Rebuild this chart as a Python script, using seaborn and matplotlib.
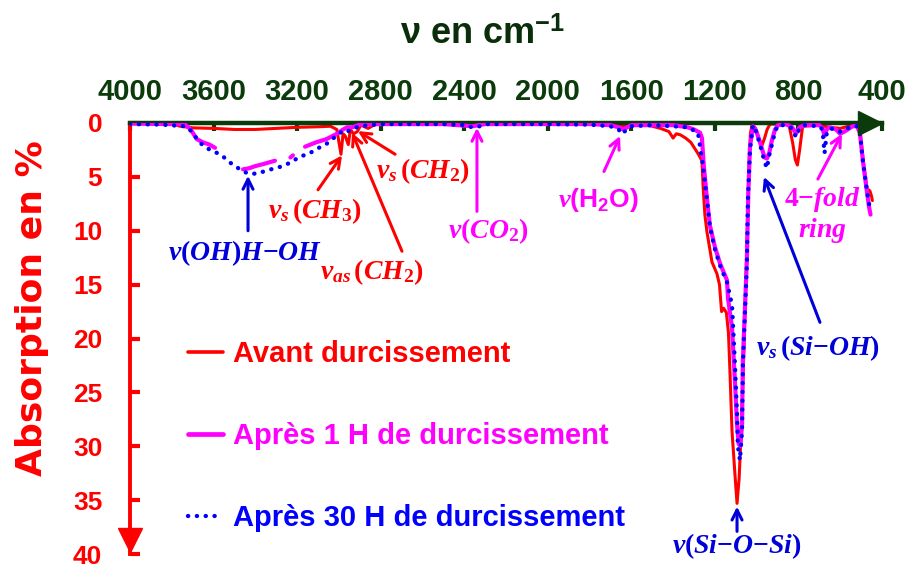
import numpy as np
import pandas as pd
import matplotlib
matplotlib.use("Agg")
import matplotlib.pyplot as plt
from matplotlib.lines import Line2D
import seaborn as sns

# FTIR spectra: wavenumber (cm-1) and absorption (%) for each curing stage
wn_avant = [4000, 3800, 3760, 3700, 3600, 3500, 3400, 3300, 3200, 3100, 3040, 3010,
            2990, 2980, 2970, 2955, 2945, 2930, 2912, 2895, 2860, 2820, 2600, 2400,
            2350, 2300, 2000, 1800, 1700, 1640, 1600, 1560, 1520, 1460, 1420, 1400,
            1385, 1365, 1340, 1315, 1282, 1262, 1256, 1248, 1238, 1214, 1190, 1178,
            1168, 1158, 1145, 1135, 1128, 1118, 1104, 1094, 1084, 1075, 1061, 1047,
            1037, 1030, 1022, 1005, 990, 975, 962, 950, 936, 880, 845, 828, 815,
            805, 795, 780, 700, 650, 600, 560, 520, 505, 490, 472, 458, 450, 446]
abs_avant = [0.0, 0.05, 0.3, 0.45, 0.5, 0.6, 0.6, 0.5, 0.4, 0.35, 0.3, 0.6,
             2.9, 1.0, 1.2, 2.0, 0.6, 1.0, 0.8, 0.2, 0.5, 0.05, 0.05, 0.1,
             0.2, 0.05, 0.05, 0.05, 0.1, 0.3, 0.1, 0.1, 0.2, 0.5, 0.8, 1.4,
             1.0, 1.1, 1.4, 1.8, 2.8, 3.5, 6.0, 8.5, 10.1, 12.9, 14.0, 15.0,
             17.5, 17.2, 17.6, 19.5, 23.0, 28.6, 32.6, 35.3, 33.0, 29.0, 21.0, 11.7,
             4.3, 1.0, 0.1, 0.5, 1.4, 2.1, 1.4, 0.6, 0.1, 0.1, 0.2, 1.8, 3.4,
             3.9, 2.6, 0.3, 0.2, 0.4, 0.5, 0.3, 0.2, 0.8, 3.5, 6.1, 6.3, 6.8, 7.2]

# after 1 h: NaN marks the stretches where the recorded trace is interrupted
wn_1h = [4000, 3800, 3740, 3720, 3703, 3680, 3650, 3620, 3593, 3520,
         3459, 3430, 3400, 3360, 3306, 3270,
         3232, 3220, 3190,
         3162, 3110, 3060, 3009, 2980, 2960, 2937, 2900, 2800, 2500, 2360, 2300,
         2000, 1800, 1700, 1660, 1640, 1600, 1400, 1330, 1300, 1271, 1262, 1253,
         1238, 1224, 1200, 1176, 1142, 1137, 1118, 1104, 1094, 1086, 1078, 1070,
         1066, 1047, 1040, 1032, 1018, 1003, 984, 962, 951, 940, 927, 912, 898,
         860, 830, 812, 795, 770, 700, 685, 675, 665, 650, 620, 601, 580, 540,
         520, 506, 491, 472, 462, 455]
abs_1h = [0.05, 0.1, 0.1, 0.4, 0.8, 1.5, 1.8, 2.0, 2.3, np.nan,
          4.3, 4.2, 4.0, 3.8, 3.5, np.nan,
          3.2, 3.0, np.nan,
          2.2, 1.8, 1.5, 1.0, 0.6, 0.4, 0.4, 0.15, 0.1, 0.1, 0.3, 0.1,
          0.1, 0.1, 0.2, 0.4, 0.6, 0.2, 0.2, 0.4, 0.6, 0.9, 1.4, 4.0,
          7.0, 9.5, 11.5, 13.0, 14.6, 16.3, 19.0, 24.0, 28.0, 29.8, 30.0, 28.0,
          22.0, 12.8, 6.5, 2.2, 0.3, 0.7, 1.8, 3.2, 3.3, 2.8, 1.6, 0.6, 0.2,
          0.1, 0.4, 1.0, 0.4, 0.2, 0.2, 0.5, 1.2, 0.6, 0.4, 0.6, 1.0, 0.8, 0.3,
          0.3, 0.9, 3.6, 6.4, 7.8, 8.5]

wn_30h = [4000, 3850, 3737, 3703, 3679, 3655, 3617, 3569, 3536, 3507, 3464, 3435,
          3392, 3344, 3306, 3268, 3225, 3186, 3148, 3105, 3057, 3019, 2980, 2960,
          2930, 2900, 2850, 2800, 2500, 2400, 2360, 2340, 2300, 2000, 1800, 1700,
          1660, 1651, 1640, 1620, 1600, 1500, 1400, 1330, 1319, 1281, 1257, 1238,
          1224, 1200, 1176, 1142, 1118, 1104, 1094, 1090, 1080, 1070, 1066, 1047,
          1042, 1032, 1018, 1003, 984, 962, 951, 940, 927, 912, 898, 860, 830,
          812, 795, 770, 700, 685, 675, 665, 650, 620, 601, 580, 540, 520, 506,
          491, 472, 462, 455]
abs_30h = [0.1, 0.15, 0.3, 0.8, 1.5, 2.0, 2.5, 2.9, 3.4, 3.9, 4.4, 4.7,
           4.7, 4.4, 4.2, 4.0, 3.6, 3.1, 2.9, 2.4, 1.9, 1.3, 0.7, 0.8,
           0.5, 0.3, 0.2, 0.1, 0.1, 0.2, 0.4, 0.4, 0.1, 0.1, 0.15, 0.3,
           0.6, 1.0, 0.9, 0.6, 0.3, 0.2, 0.3, 0.4, 0.5, 0.9, 4.0, 7.1,
           9.6, 11.7, 13.2, 14.8, 16.9, 22.4, 27.0, 30.0, 31.3, 28.5, 22.4, 13.2,
           7.1, 2.5, 0.2, 0.8, 2.0, 3.6, 4.2, 3.0, 2.0, 0.8, 0.2, 0.2, 0.5,
           1.3, 0.5, 0.2, 0.3, 0.6, 2.8, 1.0, 0.5, 0.6, 0.8, 0.6, 0.3, 0.3, 0.8,
           3.6, 6.3, 7.5, 8.3]

series_labels = ["Avant durcissement", "Après 1 H de durcissement",
                 "Après 30 H de durcissement"]
x_ticks = [4000, 3600, 3200, 2800, 2400, 2000, 1600, 1200, 800, 400]
y_ticks = [0, 5, 10, 15, 20, 25, 30, 35, 40]

RED = "#FF0000"
MAGENTA = "#FF00FF"
BLUE = "#0000FF"
TXT_BLUE = "#0000D8"
GREEN = "#0B3A0B"

sns.set_theme(style="white")
plt.rcParams["font.family"] = ["Liberation Sans", "DejaVu Sans"]
plt.rcParams["font.weight"] = "bold"
plt.rcParams["mathtext.fontset"] = "custom"
plt.rcParams["mathtext.it"] = "Liberation Serif:italic:bold"
plt.rcParams["mathtext.rm"] = "Liberation Serif:bold"
plt.rcParams["mathtext.bf"] = "Liberation Serif:bold"
plt.rcParams["mathtext.sf"] = "Liberation Sans:bold"

W, H = 907, 568
fig = plt.figure(figsize=(W / 100, H / 100), dpi=100)
ax = fig.add_axes([130 / W, 1 - 554 / H, 752 / W, 431 / H])
ax.set_facecolor("white")

# before curing
df_avant = pd.DataFrame({"wn": wn_avant, "A": abs_avant})
sns.lineplot(data=df_avant, x="wn", y="A", ax=ax, color=RED, lw=2.2,
             sort=False, estimator=None, zorder=2)

# after 1 h: drawn run by run so the interruptions stay visible
df_1h = pd.DataFrame({"wn": wn_1h, "A": abs_1h})
run_id = df_1h["A"].isna().cumsum()
for _, part in df_1h.dropna().groupby(run_id[df_1h["A"].notna()]):
    sns.lineplot(data=part, x="wn", y="A", ax=ax, color=MAGENTA, lw=3.0,
                 sort=False, estimator=None, zorder=3)

# after 30 h: round dotted trace
df_30h = pd.DataFrame({"wn": wn_30h, "A": abs_30h})
sns.lineplot(data=df_30h, x="wn", y="A", ax=ax, color=BLUE, lw=3.1,
             sort=False, estimator=None, zorder=4,
             linestyle=(0, (0.05, 2.0)), dash_capstyle="round")

ax.set_xlim(4000, 400)
ax.set_ylim(40, 0)
ax.set_xlabel("")
ax.set_ylabel("")

# axes: wavenumber on top (dark green), absorption on the left (red)
ax.xaxis.tick_top()
ax.set_xticks(x_ticks)
ax.set_xticklabels([str(t) for t in x_ticks])
ax.set_yticks(y_ticks)
ax.set_yticklabels([str(t) for t in y_ticks])
ax.tick_params(axis="x", which="both", direction="in", length=6, width=3,
               color=GREEN, labelcolor=GREEN, labelsize=21, pad=12,
               top=True, bottom=False)
ax.tick_params(axis="y", which="both", direction="in", length=7, width=3,
               color=RED, labelcolor=RED, labelsize=19, pad=20,
               left=True, right=False)
for lab in ax.get_xticklabels() + ax.get_yticklabels():
    lab.set_fontweight("bold")

for side in ("bottom", "right"):
    ax.spines[side].set_visible(False)
ax.spines["top"].set_color(GREEN)
ax.spines["top"].set_linewidth(3.2)
ax.spines["left"].set_color(RED)
ax.spines["left"].set_linewidth(2.8)
ax.grid(False)

# arrowheads at the ends of both axes
ax.plot([0.984], [1.0], marker=">", ms=17, color=GREEN, transform=ax.transAxes,
        clip_on=False, zorder=6)
ax.plot([0.0], [0.033], marker="v", ms=17, color=RED, transform=ax.transAxes,
        clip_on=False, zorder=6)

# titles
fig.text(482 / W, 1 - 35 / H, r"ν en cm$^{\mathsf{-1}}$", ha="center", va="center",
         fontsize=26, fontweight="bold", color="#0A2E0A")
fig.text(32 / W, 1 - 308 / H, "Absorption en %", rotation=90, ha="center",
         va="center", fontsize=26, fontweight="bold", color=RED,
         family=["DejaVu Sans"])

# band assignments
def band(text, xy_text, tail, head, color, size=20):
    ax.text(xy_text[0], xy_text[1], text, ha="center", va="center",
            fontsize=size, color=color, zorder=7, clip_on=False)
    ax.annotate("", xy=head, xytext=tail,
                arrowprops=dict(arrowstyle="->", color=color, lw=2.2,
                                mutation_scale=18, shrinkA=0, shrinkB=0),
                zorder=7, annotation_clip=False)

band(r"$v(OH)H{-}OH$", (3450, 12.1), (3435, 10.0), (3435, 4.9), TXT_BLUE)
band(r"$v_s\,(CH_3)$", (3114, 8.2), (3100, 6.2), (2985, 3.0), RED)
band(r"$v_s\,(CH_2)$", (2597, 4.5), (2731, 2.9), (2909, 0.75), RED)
band(r"$v_{as}\,(CH_2)$", (2842, 13.8), (2698, 11.9), (2937, 0.9), RED)
band(r"$v(CO_2)$", (2286, 10.0), (2339, 8.2), (2339, 0.45), MAGENTA)
band(r"$v\mathsf{(H_2O)}$", (1760, 7.1), (1731, 4.5), (1654, 1.2), MAGENTA, 19)
band(r"$4{-}fold$", (687, 7.1), (707, 5.2), (592, 1.0), MAGENTA)
ax.text(687, 10.0, r"$ring$", ha="center", va="center", fontsize=20,
        color=MAGENTA, zorder=7)
band(r"$v_s\,(Si{-}OH)$", (707, 20.9), (697, 18.5), (965, 5.0), TXT_BLUE)
band(r"$v(Si{-}O{-}Si)$", (1094, 39.3), (1094, 37.9), (1094, 35.6), TXT_BLUE)

# legend
handles = [Line2D([], [], color=RED, lw=2.6),
           Line2D([], [], color=MAGENTA, lw=3.4),
           Line2D([], [], color=BLUE, lw=3.1, linestyle=(0, (0.05, 2.0)),
                  dash_capstyle="round")]
leg = ax.legend(handles, series_labels, loc="upper left",
                bbox_to_anchor=(188 / W, 1 - 340 / H),
                bbox_transform=fig.transFigure, frameon=False,
                fontsize=21, handlelength=1.2, handletextpad=0.35,
                labelspacing=1.85, borderpad=0, borderaxespad=0)
for txt, col in zip(leg.get_texts(), [RED, MAGENTA, BLUE]):
    txt.set_color(col)
    txt.set_fontweight("bold")

fig.savefig("out.png", dpi=100, facecolor="white")
